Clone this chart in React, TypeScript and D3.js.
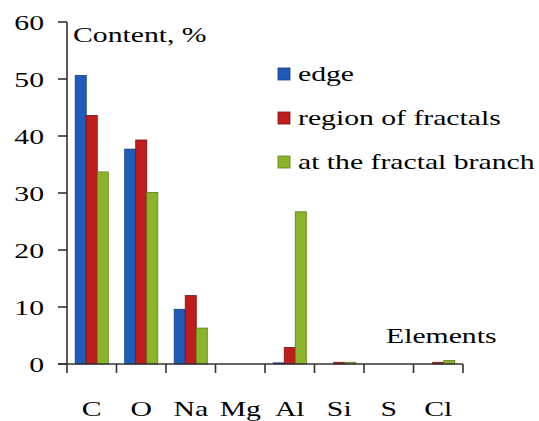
import React, { useEffect, useRef } from 'react';
import * as d3 from 'd3';

const elements = ['C', 'O', 'Na', 'Mg', 'Al', 'Si', 'S', 'Cl'];
const seriesNames = ['edge', 'region of fractals', 'at the fractal branch'];
const edge = [50.6, 37.7, 9.6, 0, 0.2, 0, 0, 0];
const regionOfFractals = [43.6, 39.3, 12.0, 0, 2.9, 0.3, 0, 0.3];
const fractalBranch = [33.7, 30.1, 6.3, 0, 26.7, 0.3, 0, 0.6];
const yTicks = [0, 10, 20, 30, 40, 50, 60];

const fills = ['#1f5cba', '#bf1d1d', '#8ab52b'];
const strokes = ['#143a80', '#7d1010', '#5d7d18'];
const SX = 1.35; // the source picture is stretched sideways

export default function App() {
  const ref = useRef<SVGSVGElement>(null);

  useEffect(() => {
    const svg = d3.select(ref.current);
    svg.selectAll('*').remove();
    const font = "'Liberation Serif', 'Times New Roman', serif";

    const x0 = d3.scaleBand().domain(elements).range([67, 463]).paddingInner(0);
    const x1 = d3.scaleBand().domain(['0', '1', '2']).range([8.2, x0.bandwidth() - 8.2]);
    const y = d3.scaleLinear().domain([0, 60]).range([364, 22]);

    const text = (g, tx, ty, str, anchor = 'start') =>
      g
        .append('text')
        .attr('transform', `translate(${tx},${ty}) scale(${SX},1)`)
        .attr('text-anchor', anchor)
        .style('font-family', font)
        .style('font-size', '22px')
        .attr('fill', '#000')
        .text(str);

    const series = [edge, regionOfFractals, fractalBranch];
    series.forEach((vals, si) => {
      svg
        .append('g')
        .selectAll('rect')
        .data(vals)
        .enter()
        .append('rect')
        .attr('x', (d, i) => x0(elements[i]) + x1(String(si)))
        .attr('y', d => y(d))
        .attr('width', x1.bandwidth())
        .attr('height', d => y(0) - y(d))
        .attr('fill', fills[si])
        .attr('stroke', strokes[si])
        .attr('stroke-width', 0.8);
    });

    const axis = svg.append('g').attr('stroke', '#333').attr('stroke-width', 1.6);
    axis.append('line').attr('x1', 67).attr('x2', 67).attr('y1', y(60)).attr('y2', y(0));
    axis.append('line').attr('x1', 58).attr('x2', 463).attr('y1', y(0)).attr('y2', y(0));
    yTicks.forEach(t => {
      axis.append('line').attr('x1', 58).attr('x2', 67).attr('y1', y(t)).attr('y2', y(t));
    });
    [...elements.map(e => x0(e)), 463].forEach(px => {
      axis.append('line').attr('x1', px).attr('x2', px).attr('y1', y(0)).attr('y2', y(0) + 9);
    });

    yTicks.forEach(t => text(svg, 44, y(t) + 8, String(t), 'end'));
    elements.forEach(e => text(svg, x0(e) + x0.bandwidth() / 2, 416, e, 'middle'));

    text(svg, 73, 42, 'Content, %');
    text(svg, 386, 343, 'Elements');

    seriesNames.forEach((name, i) => {
      const ly = 74 + i * 44;
      svg
        .append('rect')
        .attr('x', 278)
        .attr('y', ly - 6)
        .attr('width', 12)
        .attr('height', 12)
        .attr('fill', fills[i])
        .attr('stroke', strokes[i])
        .attr('stroke-width', 0.8);
      text(svg, 298, ly + 7, name);
    });
  }, []);

  return (
    <svg
      ref={ref}
      width={539}
      height={421}
      style={{ position: 'absolute', left: 0, top: 0, background: '#fff' }}
    />
  );
}
